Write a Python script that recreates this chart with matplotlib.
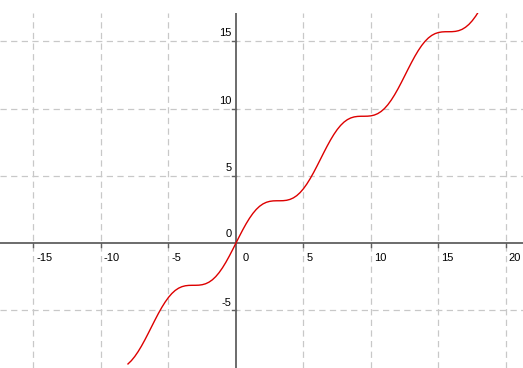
import numpy as np
import matplotlib.pyplot as plt

plt.rcParams['font.family'] = ['Liberation Sans', 'DejaVu Sans']

# curve sampled every 0.25 from x = -8 to x = 18
xs = np.arange(-8.0, 18.25, 0.25)
ys = [-8.989, -8.745, -8.438, -8.073, -7.657, -7.200, -6.715, -6.217, -5.721,
      -5.242, -4.794, -4.391, -4.041, -3.751, -3.522, -3.355, -3.243, -3.178,
      -3.149, -3.142, -3.141, -3.132, -3.098, -3.028, -2.909, -2.734, -2.497,
      -2.199, -1.841, -1.432, -0.979, -0.497, 0.0,
      0.497, 0.979, 1.432, 1.841, 2.199, 2.497, 2.734, 2.909, 3.028, 3.098,
      3.132, 3.141, 3.142, 3.149, 3.178, 3.243, 3.355, 3.522, 3.751, 4.041,
      4.391, 4.794, 5.242, 5.721, 6.217, 6.715, 7.200, 7.657, 8.073, 8.438,
      8.745, 8.989,
      9.172, 9.298, 9.375, 9.412, 9.424, 9.425, 9.431, 9.456, 9.515, 9.620,
      9.780, 10.000, 10.282, 10.625, 11.021, 11.463, 11.939, 12.434, 12.933,
      13.420, 13.882, 14.304, 14.676, 14.991, 15.244, 15.435, 15.568, 15.650,
      15.692, 15.707, 15.708, 15.712, 15.734, 15.788, 15.886, 16.039, 16.250,
      16.524, 16.859, 17.249]

xticks = [-15, -10, -5, 5, 10, 15, 20]
yticks = [-5, 5, 10, 15]

fig = plt.figure(figsize=(5.23, 3.68), dpi=100)
ax = fig.add_axes([0, 0, 1, 355 / 368])
ax.set_xlim(-17.48, 21.26)
ax.set_ylim(-9.29, 17.1)
for s in ax.spines.values():
    s.set_visible(False)
ax.set_xticks([])
ax.set_yticks([])

grid = dict(color='#c8c8c8', lw=0.9, dashes=(5, 3.5), zorder=1)
for t in xticks:
    ax.axvline(t, **grid)
for t in yticks:
    ax.axhline(t, **grid)

ax.axhline(0, color='#606060', lw=1.3, zorder=2)
ax.axvline(0, color='#606060', lw=1.3, zorder=2)

# tick marks and labels
for t in xticks:
    ax.plot([t, t], [0, -0.33], color='#606060', lw=1.0, zorder=2)
    ax.annotate(str(t), (t, 0), xytext=(2, -7), textcoords='offset points',
                ha='left', va='top', fontsize=8)
for t in yticks:
    ax.plot([0, -0.3], [t, t], color='#606060', lw=1.0, zorder=2)
    ax.annotate(str(t), (0, t), xytext=(-3, 2), textcoords='offset points',
                ha='right', va='bottom', fontsize=8)
ax.annotate('0', (0, 0), xytext=(-3, 3), textcoords='offset points',
            ha='right', va='bottom', fontsize=8)
ax.annotate('0', (0, 0), xytext=(5, -7), textcoords='offset points',
            ha='left', va='top', fontsize=8)

ax.plot(xs, ys, color='#dd0000', lw=1.0, zorder=3)

fig.savefig('out.png', dpi=100)
